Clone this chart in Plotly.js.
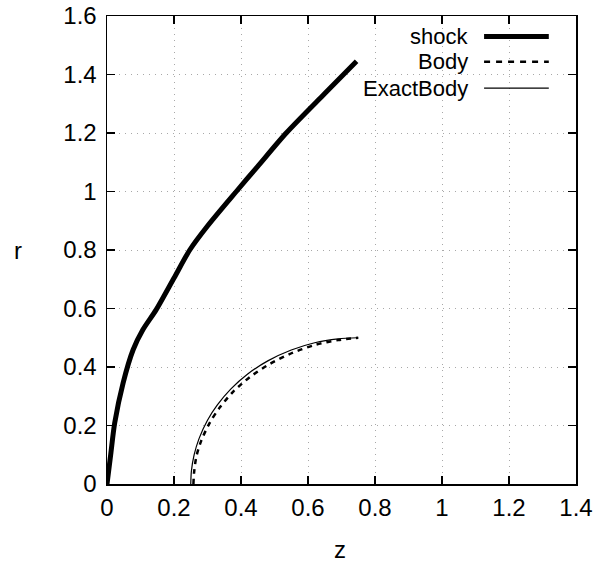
<!DOCTYPE html>
<html>
<head>
<meta charset="utf-8">
<script src="https://cdn.plot.ly/plotly-3.0.1.min.js"></script>
<style>html,body{margin:0;padding:0;background:#fff;}#chart{width:600px;height:565px;}</style>
</head>
<body>
<div id="chart"></div>
<script>
const shockZ = [0, 0.011, 0.023, 0.048, 0.078, 0.107, 0.147, 0.2, 0.247, 0.3, 0.386, 0.45, 0.535, 0.65, 0.745];
const shockR = [0, 0.1, 0.209, 0.345, 0.459, 0.527, 0.596, 0.704, 0.80, 0.882, 1.0, 1.086, 1.2, 1.335, 1.445];

const bodyZ = [0.258, 0.26, 0.267, 0.282, 0.307, 0.337, 0.377, 0.427, 0.487, 0.555, 0.623, 0.69, 0.75];
const bodyR = [0, 0.04, 0.095, 0.15, 0.21, 0.262, 0.316, 0.366, 0.411, 0.449, 0.476, 0.492, 0.5];

const exactZ = [0.25, 0.252, 0.26, 0.275, 0.3, 0.33, 0.37, 0.42, 0.48, 0.55, 0.62, 0.69, 0.75];
const exactR = [0, 0.0447, 0.0995, 0.156, 0.218, 0.271, 0.325, 0.376, 0.421, 0.458, 0.483, 0.496, 0.5];

const seriesNames = ["shock", "Body", "ExactBody"];
const xTicks = [0, 0.2, 0.4, 0.6, 0.8, 1, 1.2, 1.4];
const yTicks = [0, 0.2, 0.4, 0.6, 0.8, 1, 1.2, 1.4, 1.6];

const FONT = "Liberation Sans, Arial, sans-serif";
const FS = 24;
const LFS = 22;

const traces = [
  {x: shockZ, y: shockR, mode: "lines", name: seriesNames[0], line: {color: "#000", width: 5, shape: "spline", smoothing: 0.8}, showlegend: false},
  {x: bodyZ, y: bodyR, mode: "lines", name: seriesNames[1], line: {color: "#000", width: 2.5, dash: "5px,5px", shape: "spline", smoothing: 0.8}, showlegend: false},
  {x: exactZ, y: exactR, mode: "lines", name: seriesNames[2], line: {color: "#000", width: 1.2, shape: "spline", smoothing: 0.8}, showlegend: false}
];

// custom legend (gnuplot style: text right, sample line at right)
const legY = [0.956, 0.902, 0.846];
const legDash = ["solid", "6px,6px", "solid"];
const legW = [5, 2.5, 1.2];
const shapes = [
  {type: "rect", xref: "paper", yref: "paper", x0: 0.515, x1: 0.97, y0: 0.8, y1: 0.985,
   fillcolor: "#fff", line: {width: 0}, layer: "below"}
];
const annotations = [];
seriesNames.forEach((n, i) => {
  shapes.push({type: "line", xref: "paper", yref: "paper", x0: 0.804, x1: 0.942, y0: legY[i], y1: legY[i],
    line: {color: "#000", width: legW[i], dash: legDash[i]}});
  annotations.push({xref: "paper", yref: "paper", x: 0.772, y: legY[i], xanchor: "right", yanchor: "middle",
    text: n, showarrow: false, borderpad: 0, font: {family: FONT, size: LFS, color: "#000"}});
});
annotations.push({xref: "paper", yref: "paper", x: 0.496, y: -0.14, xanchor: "center", yanchor: "middle",
  text: "z", showarrow: false, font: {family: FONT, size: FS, color: "#000"}});
annotations.push({xref: "paper", yref: "paper", x: -0.19, y: 0.5, xanchor: "center", yanchor: "middle",
  text: "r", showarrow: false, font: {family: FONT, size: FS, color: "#000"}});

const axisCommon = {
  showline: true, linecolor: "#000", linewidth: 1.5, mirror: "ticks",
  ticks: "inside", ticklen: 8, tickwidth: 1.2, tickcolor: "#000",
  showgrid: true, gridcolor: "#a8a8a8", griddash: "1px,5px", gridwidth: 1,
  zeroline: false, tickfont: {family: FONT, size: FS, color: "#000"}
};

const layout = {
  width: 600, height: 565,
  margin: {l: 107, r: 24, t: 16, b: 81},
  paper_bgcolor: "#fff", plot_bgcolor: "#fff",
  showlegend: false,
  xaxis: Object.assign({}, axisCommon, {range: [0, 1.4], tickvals: xTicks, ticktext: xTicks.map(String), ticklabelstandoff: 2}),
  yaxis: Object.assign({}, axisCommon, {range: [0, 1.6], tickvals: yTicks, ticktext: yTicks.map(String), ticklabelstandoff: 4}),
  shapes: shapes,
  annotations: annotations
};

Plotly.newPlot("chart", traces, layout, {staticPlot: true, displayModeBar: false});
</script>
</body>
</html>
